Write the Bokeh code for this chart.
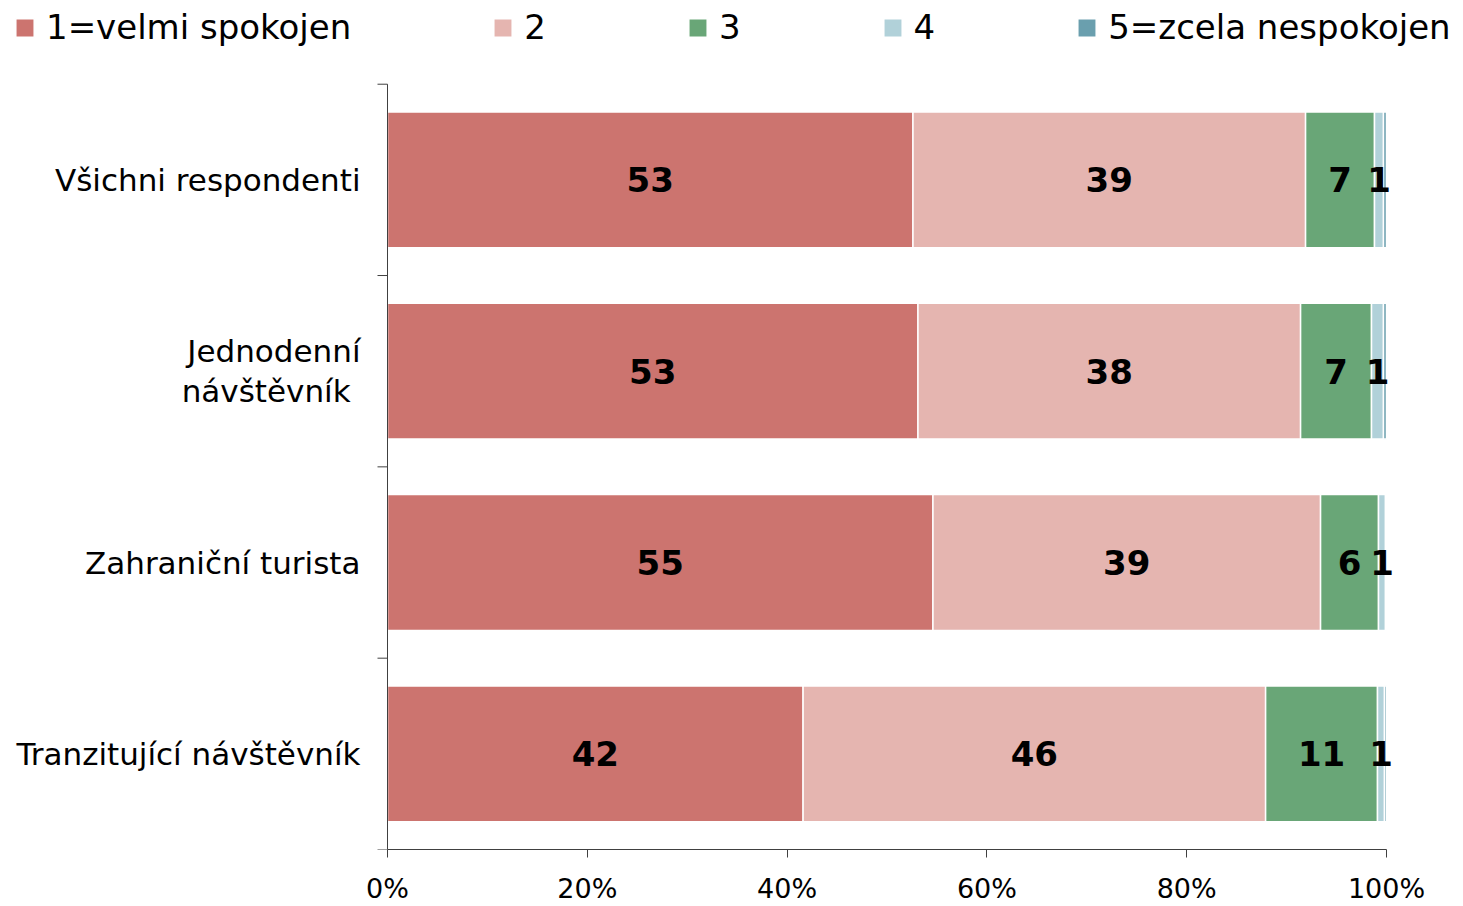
from bokeh.plotting import figure
from bokeh.models import (ColumnDataSource, FixedTicker, Legend, LegendItem, Range1d,
                          PrintfTickFormatter, LabelSet)
from bokeh.core.properties import value
from bokeh.embed import file_html
from bokeh.resources import INLINE

categories = ["Všichni respondenti", "Jednodenní\nnávštěvník ", "Zahraniční turista", "Tranzitující návštěvník"]
series_names = ["1=velmi spokojen", "2", "3", "4", "5=zcela nespokojen"]
s1 = [52.6, 53.1, 54.6, 41.6]
s2 = [39.3, 38.3, 38.8, 46.3]
s3 = [6.9, 7.1, 5.8, 11.2]
s4 = [0.9, 1.2, 0.7, 0.7]
s5 = [0.3, 0.3, 0.1, 0.2]
series = [s1, s2, s3, s4, s5]
colors = ["#CC746F", "#E5B5B0", "#69A677", "#B1D1D9", "#6A9FAE"]
x_ticks = [0, 20, 40, 60, 80, 100]

FONT = "DejaVu Sans"
W, H = 1463, 906
BOTTOM = 54                 # px below the plotting area for the x axis
AX_X = 387                  # px position of the 0 % line
PX_PER_PCT = 999 / 100.0
BAND_PX = 192               # px per category band
n = len(categories)
ypos = [n - i - 0.5 for i in range(n)]

frame_h = H - BOTTOM
x_start = -AX_X / PX_PER_PCT
x_end = (W - AX_X) / PX_PER_PCT
y_end = frame_h / BAND_PX

p = figure(width=W, height=H, output_backend="svg", toolbar_location=None,
           x_range=Range1d(x_start, x_end), y_range=Range1d(0, y_end),
           min_border_left=0, min_border_right=0, min_border_top=0, min_border_bottom=BOTTOM,
           y_axis_location=None)
p.outline_line_color = None
p.xgrid.visible = False
p.ygrid.visible = False

renderers = []
lefts = [0.0] * n
label_x, label_y, label_t = [], [], []
for name, vals, col in zip(series_names, series, colors):
    rights = [l + v for l, v in zip(lefts, vals)]
    src = ColumnDataSource(dict(y=ypos, left=lefts, right=rights))
    r = p.hbar(y="y", left="left", right="right", height=0.71, source=src,
               fill_color=col, line_color="white", line_width=1.5)
    renderers.append(r)
    for l, rr, v, yy in zip(lefts, rights, vals, ypos):
        if round(v) >= 1:
            label_x.append((l + rr) / 2)
            label_y.append(yy)
            label_t.append(str(int(round(v))))
    lefts = rights

lsrc = ColumnDataSource(dict(x=label_x, y=label_y, t=label_t))
labels = LabelSet(x="x", y="y", text="t", source=lsrc, text_align="center",
                  text_baseline="middle", text_font=value(FONT), text_font_size="34px",
                  text_font_style="bold", text_color="black")
p.add_layout(labels)

# x axis (real axis, limited to 0..100 %)
xa = p.xaxis[0]
xa.ticker = FixedTicker(ticks=x_ticks)
xa.bounds = (0, 100)
xa.formatter = PrintfTickFormatter(format="%d%%")
xa.major_tick_out = 8
xa.major_tick_in = 0
xa.minor_tick_line_color = None
xa.axis_line_color = "#404040"
xa.major_tick_line_color = "#404040"
xa.major_label_text_font = FONT
xa.major_label_text_font_size = "27px"
xa.major_label_text_color = "black"
xa.major_label_standoff = 15

# category axis: line, boundary ticks and labels
bounds_y = [float(i) for i in range(n + 1)]
p.segment(x0=[0], y0=[0], x1=[0], y1=[n], line_color="#404040", line_width=1)
tick_len = 10 / PX_PER_PCT
p.segment(x0=[-tick_len] * len(bounds_y), y0=bounds_y, x1=[0] * len(bounds_y), y1=bounds_y,
          line_color="#404040", line_width=1)
cat_src = ColumnDataSource(dict(x=[-27 / PX_PER_PCT] * n, y=ypos, t=categories))
p.text(x="x", y="y", text="t", source=cat_src, text_align="right", text_baseline="middle",
       text_font=value(FONT), text_font_size="31px", text_color="black", text_line_height=1.1)

legend = Legend(items=[LegendItem(label=nm, renderers=[r]) for nm, r in zip(series_names, renderers)],
                orientation="horizontal", location=(13, frame_h - 30 - 20),
                glyph_width=23, glyph_height=23, label_standoff=10, spacing=140,
                padding=0, margin=0, border_line_color=None, background_fill_alpha=0,
                label_text_font=FONT, label_text_font_size="34px", label_text_color="black")
p.add_layout(legend)

open("out.html", "w").write(file_html(p, INLINE))
